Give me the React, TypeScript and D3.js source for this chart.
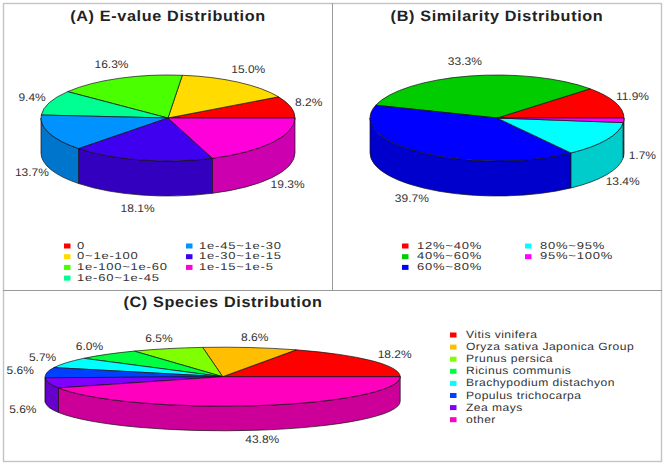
import { useEffect, useRef } from "react";
import * as d3 from "d3";

const evalueLabels = ["0", "0~1e-100", "1e-100~1e-60", "1e-60~1e-45", "1e-45~1e-30", "1e-30~1e-15", "1e-15~1e-5"];
const evalueValues = [8.2, 15.0, 16.3, 9.4, 13.7, 18.1, 19.3];
const evalueColors = ["#FF0000", "#FFDB00", "#49FF00", "#00FF92", "#0092FF", "#4000F0", "#FF00DB"];

const similarityLabels = ["12%~40%", "40%~60%", "60%~80%", "80%~95%", "95%~100%"];
const similarityValues = [11.9, 33.3, 39.7, 13.4, 1.7];
const similarityColors = ["#FF0000", "#00CC00", "#0000FF", "#00FFFF", "#FF00FF"];

const speciesLabels = ["Vitis vinifera", "Oryza sativa Japonica Group", "Prunus persica", "Ricinus communis", "Brachypodium distachyon", "Populus trichocarpa", "Zea mays", "other"];
const speciesValues = [18.2, 8.6, 6.5, 6.0, 5.7, 5.6, 5.6, 43.8];
const speciesColors = ["#FF0000", "#FFBF00", "#80FF00", "#00FF40", "#00FFFF", "#0040FF", "#8000FF", "#FF00BF"];

const font = "'Liberation Sans', Arial, sans-serif";
const textColor = "#333";

type Panel = {
  title: string; titleX: number; titleY: number;
  labels: string[]; values: number[]; colors: string[];
  cx: number; cy: number; rx: number; ry: number; depth: number;
  padX: number; padY: number;
  legendRows: number; legendX: number[]; legendY: number; legendStep: number;
  legendGap: number; legendFont: number; legendStretch: number; legendSpacing: number;
};

const panels: Panel[] = [
  {
    title: "(A) E-value Distribution", titleX: 168, titleY: 20.5,
    labels: evalueLabels, values: evalueValues, colors: evalueColors,
    cx: 168, cy: 118, rx: 127, ry: 43, depth: 35, padX: 18.5, padY: 14,
    legendRows: 4, legendX: [64, 186], legendY: 246, legendStep: 10.7,
    legendGap: 13, legendFont: 10, legendStretch: 1.3, legendSpacing: 0.6,
  },
  {
    title: "(B) Similarity Distribution", titleX: 497, titleY: 20.5,
    labels: similarityLabels, values: similarityValues, colors: similarityColors,
    cx: 497, cy: 118, rx: 127, ry: 43, depth: 35, padX: 18.5, padY: 14,
    legendRows: 3, legendX: [402, 525], legendY: 246, legendStep: 10.7,
    legendGap: 15, legendFont: 10, legendStretch: 1.3, legendSpacing: 0.6,
  },
  {
    title: "(C) Species Distribution", titleX: 223, titleY: 307,
    labels: speciesLabels, values: speciesValues, colors: speciesColors,
    cx: 222.7, cy: 376.7, rx: 177.5, ry: 29.5, depth: 24.6, padX: 27, padY: 10,
    legendRows: 8, legendX: [450], legendY: 335, legendStep: 12.1,
    legendGap: 16, legendFont: 10.5, legendStretch: 1.15, legendSpacing: 0.4,
  },
];

function drawPie(svg: d3.Selection<SVGSVGElement, unknown, null, undefined>, p: Panel) {
  const k = p.ry / p.rx;
  // d3 angles run clockwise from 12 o'clock, the slices run counter-clockwise from 3 o'clock
  const slices = d3.pie<number>().sort(null).startAngle(Math.PI / 2).endAngle(Math.PI / 2 - 2 * Math.PI)(p.values);
  const toMath = (a: number) => Math.PI / 2 - a;

  const g = svg.append("g").attr("transform", `translate(${p.cx},${p.cy}) scale(1,${k})`);

  slices.forEach((s, i) => {
    const t0 = Math.max(toMath(s.startAngle), Math.PI);
    const t1 = Math.min(toMath(s.endAngle), 2 * Math.PI);
    if (t1 <= t0) return;
    const path = d3.path();
    path.arc(0, 0, p.rx, -t0, -t1, true);
    path.arc(0, p.depth / k, p.rx, -t1, -t0, false);
    path.closePath();
    const c = d3.rgb(p.colors[i]);
    g.append("path")
      .attr("d", path.toString())
      .attr("fill", d3.rgb(c.r * 0.8, c.g * 0.8, c.b * 0.8).formatHex())
      .attr("stroke", "#111")
      .attr("stroke-width", 0.7)
      .attr("vector-effect", "non-scaling-stroke");
  });

  const arc = d3.arc<d3.PieArcDatum<number>>().innerRadius(0).outerRadius(p.rx);
  g.selectAll("path.top")
    .data(slices)
    .join("path")
    .attr("class", "top")
    .attr("d", arc)
    .attr("fill", (_, i) => p.colors[i])
    .attr("stroke", "#111")
    .attr("stroke-width", 0.7)
    .attr("vector-effect", "non-scaling-stroke");

  // the source image is stretched sideways, so the texts get a scaleX as well
  svg.append("g")
    .selectAll("text")
    .data(slices)
    .join("text")
    .attr("transform", (s) => {
      const t = toMath((s.startAngle + s.endAngle) / 2);
      const sin = Math.sin(t);
      const x = p.cx + (p.rx + p.padX) * Math.cos(t);
      const y = p.cy - (p.ry + p.padY) * sin + (sin < 0 ? p.depth : 0);
      return `translate(${x},${y}) scale(1.09,1)`;
    })
    .attr("text-anchor", "middle")
    .attr("dominant-baseline", "central")
    .attr("font-family", font)
    .attr("font-size", 11)
    .attr("text-rendering", "geometricPrecision")
    .attr("fill", textColor)
    .text((s) => `${s.data.toFixed(1)}%`);

  svg.append("text")
    .attr("transform", `translate(${p.titleX},${p.titleY}) scale(1.08,1)`)
    .attr("text-anchor", "middle")
    .attr("font-family", font)
    .attr("font-weight", "bold")
    .attr("font-size", 15)
    .attr("letter-spacing", 0.6)
    .attr("text-rendering", "geometricPrecision")
    .attr("fill", "#222")
    .text(p.title);

  const legend = svg.append("g")
    .selectAll("g")
    .data(p.labels)
    .join("g")
    .attr("transform", (_, i) => {
      const col = Math.floor(i / p.legendRows);
      const row = i % p.legendRows;
      return `translate(${p.legendX[col]},${p.legendY + row * p.legendStep})`;
    });
  legend.append("rect")
    .attr("y", -2.5)
    .attr("width", 6.5)
    .attr("height", 5)
    .attr("fill", (_, i) => p.colors[i]);
  legend.append("text")
    .attr("transform", `translate(${p.legendGap},0) scale(${p.legendStretch},1)`)
    .attr("dominant-baseline", "central")
    .attr("font-family", font)
    .attr("font-size", p.legendFont)
    .attr("letter-spacing", p.legendSpacing)
    .attr("text-rendering", "geometricPrecision")
    .attr("fill", textColor)
    .text((d) => d);
}

export default function App() {
  const ref = useRef<SVGSVGElement>(null);

  useEffect(() => {
    const svg = d3.select(ref.current!);
    svg.selectAll("*").remove();
    const frame = svg.append("g").attr("fill", "none");
    frame.append("rect").attr("x", 3.5).attr("y", 3.5).attr("width", 658).attr("height", 458).attr("stroke", "#c4c4c4").attr("stroke-width", 1.4);
    frame.append("line").attr("x1", 3).attr("x2", 662).attr("y1", 290.5).attr("y2", 290.5).attr("stroke", "#999");
    frame.append("line").attr("x1", 332.5).attr("x2", 332.5).attr("y1", 3).attr("y2", 290).attr("stroke", "#999");
    panels.forEach((p) => drawPie(svg, p));
  }, []);

  return <svg ref={ref} width={666} height={467} style={{ position: "absolute", left: 0, top: 0, background: "#fff" }} />;
}
